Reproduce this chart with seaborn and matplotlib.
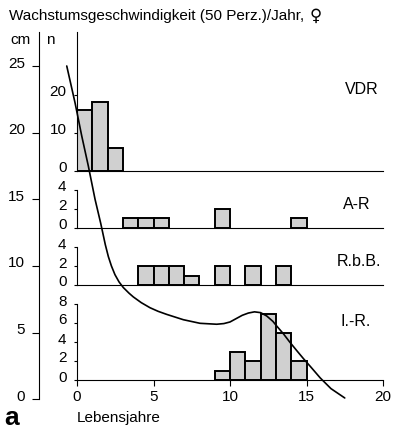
import numpy as np
import pandas as pd
import matplotlib
matplotlib.use("Agg")
import matplotlib.pyplot as plt
import seaborn as sns
from matplotlib.transforms import ScaledTranslation

# ---------------- data ----------------
vdr_age = [0, 1, 2]
vdr_n = [16, 18, 6]
ar_age = [3, 4, 5, 9, 14]
ar_n = [1, 1, 1, 2, 1]
rbb_age = [4, 5, 6, 7, 9, 11, 13]
rbb_n = [2, 2, 2, 1, 2, 2, 2]
ir_age = [9, 10, 11, 12, 13, 14]
ir_n = [1, 3, 2, 7, 5, 2]

curve_age = [-0.67, -0.13, 0.31, 0.74, 1.18, 1.55, 1.85, 2.05, 2.25, 2.48,
             2.75, 3.03, 3.4, 3.68, 4.2, 4.77, 5.3, 5.86, 6.95, 8.04, 9.13,
             9.6, 10.0, 10.4, 10.8, 11.2, 11.6, 12.0, 12.4, 12.8, 13.05, 13.5,
             13.9, 14.4, 14.8, 15.3, 15.9, 16.6, 17.5]
curve_cm = [25.0, 22.25, 19.75, 17.5, 15.0, 13.2, 11.6, 10.7, 10.0, 9.35,
            8.8, 8.38, 7.96, 7.68, 7.25, 6.87, 6.6, 6.37, 5.97, 5.70, 5.63,
            5.68, 5.8, 6.05, 6.3, 6.47, 6.56, 6.5, 6.25, 5.85, 5.5, 4.9,
            4.3, 3.6, 3.05, 2.4, 1.6, 0.8, 0.1]

cm_ticks = [0, 5, 10, 15, 20, 25]
x_ticks = [0, 5, 10, 15, 20]
panel_names = ["VDR", "A-R", "R.b.B.", "I.-R."]
panel_ages = [vdr_age, ar_age, rbb_age, ir_age]
panel_counts = [vdr_n, ar_n, rbb_n, ir_n]
panel_ticks = [[0, 10, 20], [0, 2, 4], [0, 2, 4], [0, 2, 4, 6, 8]]

title = "Wachstumsgeschwindigkeit (50 Perz.)/Jahr,"
title_sym = "\u2640"

# ---------------- style ----------------
sns.set_theme(style="ticks")
plt.rcParams['font.family'] = ['Liberation Sans', 'DejaVu Sans']
plt.rcParams['axes.linewidth'] = 0.8
plt.rcParams['text.color'] = 'black'
plt.rcParams['xtick.color'] = 'black'
plt.rcParams['ytick.color'] = 'black'
plt.rcParams['axes.edgecolor'] = 'black'

W, H = 401, 430
fig = plt.figure(figsize=(W / 100, H / 100), dpi=100)
fig.patch.set_facecolor("white")


def rect(x0, y_top, x1, y_bot):
    return [x0 / W, 1 - y_bot / H, (x1 - x0) / W, (y_bot - y_top) / H]


def shift_up(labels, px):
    for lab in labels:
        lab.set_transform(lab.get_transform() +
                          ScaledTranslation(0, px / 100, fig.dpi_scale_trans))


X0, X20 = 77, 383
ppy = (X20 - X0) / 20.0
OUT_L = 39
CM0, CMTOP = 399.3, 32
ppcm = (CM0 - 66) / 25.0

# layout per panel: bottom px, top px, px per count, top of spine (value), label pos
layout = [
    (170.7, 32, 3.8, None, (345, 90)),
    (227.7, 185, 9.5, 4, (343, 205)),
    (285.0, 243, 9.4, 4, (337, 262)),
    (380.0, 300, 9.5, 8, (340, 322)),
]

BAR_FC = "#d0d0d0"
fs = 11

for i, (name, ages, counts, ticks) in enumerate(zip(panel_names, panel_ages,
                                                     panel_counts, panel_ticks)):
    bot, top, ppn, stop, lab_xy = layout[i]
    ax = fig.add_axes(rect(X0, top, X20, bot))
    ax.patch.set_visible(False)
    df = pd.DataFrame({"age": [a + 0.5 for a in ages], "n": counts})
    sns.histplot(data=df, x="age", weights="n", binwidth=1, binrange=(0, 20),
                 ax=ax, color=BAR_FC, edgecolor="black", linewidth=1.4,
                 alpha=1.0, legend=False)
    for p in ax.patches:
        if p.get_height() == 0:
            p.set_visible(False)
    ax.set_xlim(0, 20)
    ax.set_ylim(0, (bot - top) / ppn)
    ax.set_xlabel("")
    ax.set_ylabel("")
    ax.set_yticks(ticks)
    ax.set_yticklabels([str(t) for t in ticks], fontsize=fs, color="black")
    ax.tick_params(axis="y", direction="out", length=2.5, width=0.8, pad=5,
                   left=True, colors="black")
    shift_up(ax.get_yticklabels(), 4)
    for s in ["top", "right"]:
        ax.spines[s].set_visible(False)
    ax.spines["left"].set_color("black")
    ax.spines["bottom"].set_color("black")
    ax.spines["bottom"].set_linewidth(0.8)
    if stop is not None:
        ax.spines["left"].set_bounds(0, stop)
    if i < 3:
        ax.tick_params(axis="x", bottom=False, labelbottom=False)
    else:
        ax.set_xticks(x_ticks)
        ax.set_xticklabels([str(t) for t in x_ticks], fontsize=fs, color="black")
        ax.tick_params(axis="x", direction="out", length=4, width=0.8, pad=3,
                       bottom=True, colors="black")
    fig.text(lab_xy[0] / W, 1 - lab_xy[1] / H, name, fontsize=11.5,
             ha="left", va="center", color="black")

# outer cm axis + growth-velocity curve (on top)
ax_cm = fig.add_axes(rect(OUT_L, CMTOP, X20, CM0))
ax_cm.set_zorder(10)
ax_cm.patch.set_visible(False)
curve_df = pd.DataFrame({"age": curve_age, "cm": curve_cm})
sns.lineplot(data=curve_df, x="age", y="cm", ax=ax_cm, color="black",
             linewidth=1.2, estimator=None, sort=False)
ax_cm.set_xlim(-(X0 - OUT_L) / ppy, 20)
ax_cm.set_ylim(0, (CM0 - CMTOP) / ppcm)
ax_cm.set_xlabel("")
ax_cm.set_ylabel("")
ax_cm.set_yticks(cm_ticks)
ax_cm.set_yticklabels([str(t) for t in cm_ticks], fontsize=fs, color="black")
ax_cm.tick_params(axis="y", direction="out", length=5, width=0.8, pad=5,
                  left=True, colors="black")
shift_up(ax_cm.get_yticklabels(), 4)
ax_cm.tick_params(axis="x", bottom=False, labelbottom=False)
for s in ["top", "right", "bottom"]:
    ax_cm.spines[s].set_visible(False)
ax_cm.spines["left"].set_color("black")

# texts
t_title = fig.text(9 / W, 1 - 16 / H, title, fontsize=fs, ha="left",
                   va="center", color="black")
ax_cm.annotate(title_sym, xy=(1, 0.5), xycoords=t_title, xytext=(4, 0),
               textcoords="offset points", ha="left", va="center",
               fontsize=12, color="black", family=["DejaVu Sans"],
               annotation_clip=False)
fig.text(10 / W, 1 - 40 / H, "cm", fontsize=fs, ha="left", va="center",
         color="black")
fig.text(46 / W, 1 - 40 / H, "n", fontsize=fs, ha="left", va="center",
         color="black")
fig.text(77 / W, 1 - 418 / H, "Lebensjahre", fontsize=fs, ha="left",
         va="center", color="black")
fig.text(4 / W, 1 - 425 / H, "a", fontsize=19, fontweight="bold",
         ha="left", va="baseline", color="black",
         family=["Liberation Sans", "DejaVu Sans"])

fig.savefig("out.png", dpi=100, facecolor="white")
